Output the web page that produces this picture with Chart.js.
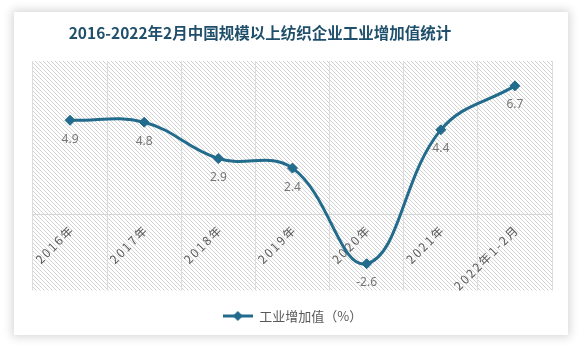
<!DOCTYPE html>
<html>
<head>
<meta charset="utf-8">
<script src="https://cdn.jsdelivr.net/npm/chart.js@4"></script>
<style>
  html, body { margin: 0; padding: 0; background: #fff; }
  #card {
    position: absolute; left: 14px; top: 12px; width: 554px; height: 323px;
    background: #fff; box-shadow: 0 0 9px 2px rgba(0, 0, 0, 0.16);
  }
  canvas { display: block; }
</style>
</head>
<body>
<div id="card"><canvas id="myChart" width="554" height="323"></canvas></div>
<script>
// data
const categories = ['2016年', '2017年', '2018年', '2019年', '2020年', '2021年', '2022年1-2月'];
const values = [4.9, 4.8, 2.9, 2.4, -2.6, 4.4, 6.7];
const seriesName = '工业增加值（%）';
const chartTitle = '2016-2022年2月中国规模以上纺织企业工业增加值统计';

const lineColor = '#226b8c';
const cjkFont = '"Noto Sans CJK SC", "Noto Sans", sans-serif';

// category axis whose labels are drawn a little letter-spaced
class SpacedCategoryScale extends Chart.CategoryScale {
    drawLabels(chartArea) {
        this.ctx.save();
        this.ctx.letterSpacing = '2px';
        this.ctx.translate(2, 0);
        super.drawLabels(chartArea);
        this.ctx.restore();
    }
}
SpacedCategoryScale.id = 'spacedCategory';
SpacedCategoryScale.defaults = Chart.CategoryScale.defaults;
Chart.register(SpacedCategoryScale);

// diagonal hatch pattern for the plot background
const tile = document.createElement('canvas');
tile.width = 4;
tile.height = 4;
const tctx = tile.getContext('2d');
tctx.fillStyle = '#ffffff';
tctx.fillRect(0, 0, 4, 4);
tctx.fillStyle = '#d2d2d2';
for (let i = 0; i < 4; i++) tctx.fillRect(i, i, 1, 1);

// legend icon: line with a diamond marker
const legendIcon = document.createElement('canvas');
legendIcon.width = 30;
legendIcon.height = 12;
const lctx = legendIcon.getContext('2d');
lctx.strokeStyle = lineColor;
lctx.lineWidth = 3;
lctx.beginPath();
lctx.moveTo(0, 6);
lctx.lineTo(30, 6);
lctx.stroke();
lctx.fillStyle = lineColor;
lctx.beginPath();
lctx.moveTo(15, 1);
lctx.lineTo(20, 6);
lctx.lineTo(15, 11);
lctx.lineTo(10, 6);
lctx.closePath();
lctx.fill();

const hatchBackground = {
    id: 'hatchBackground',
    beforeDraw(chart) {
        const { ctx, chartArea } = chart;
        ctx.save();
        ctx.fillStyle = ctx.createPattern(tile, 'repeat');
        ctx.fillRect(chartArea.left, chartArea.top, chartArea.right - chartArea.left, chartArea.bottom - chartArea.top);
        // title sits a bit left of the card centre in the original
        ctx.font = 'bold 15.5px ' + cjkFont;
        ctx.fillStyle = '#1f4f6b';
        ctx.textAlign = 'center';
        ctx.textBaseline = 'middle';
        ctx.fillText(chartTitle, 246, 21);
        ctx.restore();
    }
};

// value labels under each point
const valueLabels = {
    id: 'valueLabels',
    afterDatasetsDraw(chart) {
        const ctx = chart.ctx;
        const meta = chart.getDatasetMeta(0);
        ctx.save();
        ctx.font = '12px "Noto Sans", sans-serif';
        ctx.fillStyle = '#767676';
        ctx.textAlign = 'center';
        ctx.textBaseline = 'middle';
        meta.data.forEach((pt, i) => {
            ctx.fillText(values[i].toFixed(1), pt.x, pt.y + 19);
        });
        ctx.restore();
    }
};

const ctx = document.getElementById('myChart').getContext('2d');
const chart = new Chart(ctx, {
    type: 'line',
    data: {
        labels: categories,
        datasets: [{
            label: seriesName,
            data: values,
            borderColor: lineColor,
            backgroundColor: lineColor,
            borderWidth: 3,
            tension: 0.4,
            pointStyle: 'rectRot',
            pointRadius: 5,
            pointBackgroundColor: lineColor,
            pointBorderColor: lineColor,
            pointBorderWidth: 1
        }]
    },
    options: {
        responsive: false,
        animation: false,
        layout: { padding: { left: 19, right: 16, top: 49, bottom: 2.5 } },
        scales: {
            x: {
                type: 'spacedCategory',
                position: { y: 0 },
                offset: true,
                grid: { color: '#dcdcdc', drawTicks: false, offset: true },
                border: { color: '#d4d4d4' },
                ticks: {
                    minRotation: 45,
                    maxRotation: 45,
                    padding: 8,
                    color: '#595959',
                    font: { size: 12, family: cjkFont }
                }
            },
            y: {
                display: false,
                min: -4,
                max: 8
            }
        },
        plugins: {
            title: { display: false },
            legend: {
                position: 'bottom',
                labels: {
                    usePointStyle: true,
                    pointStyleWidth: 30,
                    boxHeight: 12,
                    color: '#595959',
                    font: { size: 13, family: cjkFont },
                    padding: 19,
                    generateLabels: () => [{
                        text: seriesName,
                        pointStyle: legendIcon,
                        fillStyle: lineColor,
                        strokeStyle: lineColor,
                        lineWidth: 0,
                        fontColor: '#595959',
                        datasetIndex: 0
                    }]
                }
            },
            tooltip: { enabled: false }
        }
    },
    plugins: [hatchBackground, valueLabels]
});
</script>
</body>
</html>
